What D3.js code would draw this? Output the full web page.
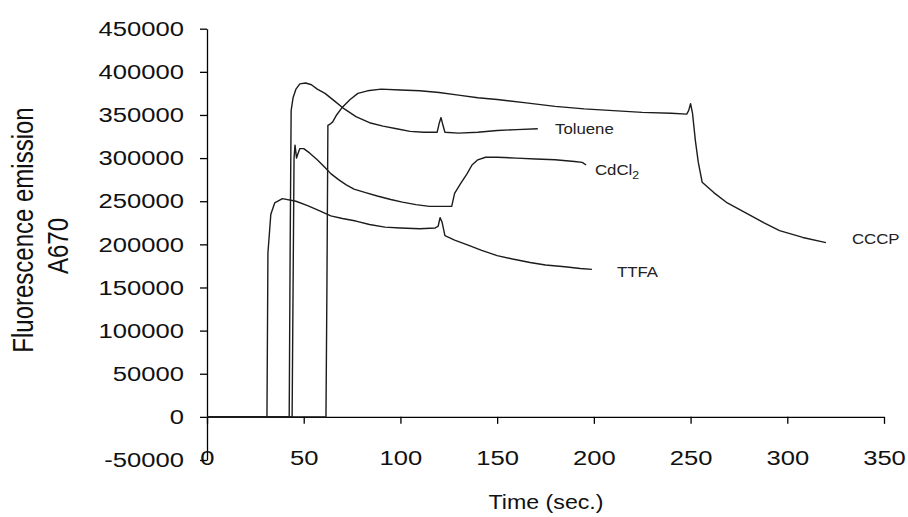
<!DOCTYPE html>
<html>
<head>
<meta charset="utf-8">
<script src="https://cdn.jsdelivr.net/npm/d3@7"></script>
<style>
  body { margin: 0; background: #fff; }
  svg { display: block; font-family: "Liberation Sans", Arial, sans-serif; }
</style>
</head>
<body>
<svg id="chart" width="908" height="517"></svg>
<script>
// time (sec.), fluorescence emission pairs
const ttfa = [
  [0, 0], [31, 0], [31.5, 190000], [33, 235000], [35, 248000], [39, 253000],
  [46, 250000], [52, 245000], [58, 239000], [64, 233000], [70, 230000],
  [77, 227000], [84, 223000], [92, 220000], [100, 219000], [110, 218000],
  [118, 219000], [119.5, 221000], [120.5, 231000], [121.5, 226000],
  [123, 210000], [128, 205000], [135, 199000], [142, 193000], [150, 187000],
  [158, 183000], [167, 179000], [175, 176000], [185, 174000], [193, 172000],
  [199, 171000]
];
const toluene = [
  [0, 0], [42.5, 0], [43, 200000], [43.5, 355000], [44.5, 370000],
  [46, 380000], [48, 386000], [51, 387000], [54, 385000], [57, 380000],
  [61, 375000], [66, 366000], [71, 357000], [77, 348000], [84, 341000],
  [91, 337000], [98, 334000], [105, 331000], [112, 330000], [119, 330000],
  [120, 340000], [121, 347000], [122, 338000], [123, 330000], [130, 329000],
  [140, 330000], [150, 332000], [160, 333000], [171, 334000]
];
const cdcl2 = [
  [0, 0], [44, 0], [44.5, 150000], [45, 300000], [45.5, 315000],
  [46.3, 300000], [47, 305000], [48, 311000], [50, 311000], [53, 306000],
  [57, 298000], [61, 289000], [64, 282000], [68, 275000], [72, 269000],
  [76, 264000], [82, 260000], [88, 256000], [95, 252000], [101, 249000],
  [108, 246000], [115, 244000], [122, 244000], [126.5, 244000],
  [128, 259000], [131, 270000], [134.5, 282000], [137, 292000],
  [140, 298000], [144, 301000], [150, 301000], [160, 300000],
  [170, 299000], [180, 298000], [190, 296000], [194, 295000], [196, 292000]
];
const cccp = [
  [0, 0], [61.5, 0], [62, 150000], [62.5, 338000], [64, 340000],
  [65, 342000], [67, 350000], [70, 359000], [74, 368000], [78, 375000],
  [83, 378000], [90, 380000], [100, 379000], [110, 378000], [120, 376000],
  [130, 373000], [140, 370000], [150, 368000], [165, 364000], [180, 360000],
  [195, 357000], [210, 355000], [225, 353000], [240, 352000], [248, 351000],
  [249, 355000], [250, 363000], [251, 352000], [252.5, 320000],
  [254, 295000], [256, 272000], [262, 260000], [269, 248000], [279, 236000],
  [288, 225000], [296, 216000], [308, 208000], [320, 202000]
];

const xTicks = [0, 50, 100, 150, 200, 250, 300, 350];
const yTicks = [-50000, 0, 50000, 100000, 150000, 200000, 250000, 300000, 350000, 400000, 450000];

const seriesLabels = [
  { name: "Toluene", x: 555, y: 134 },
  { name: "CdCl", sub: "2", x: 595, y: 175 },
  { name: "TTFA", x: 617, y: 277 },
  { name: "CCCP", x: 852, y: 244 }
];

// the picture is a bit wider than tall, stretch the text to match
const stretch = 1.22;

const svg = d3.select("#chart");

const xScale = d3.scaleLinear().domain([0, 350]).range([207, 884]);
const yScale = d3.scaleLinear().domain([-50000, 450000]).range([460, 28.7]);

// Axes
const yAxis = d3.axisLeft(yScale)
  .tickValues(yTicks)
  .tickFormat((d) => `${d}`)
  .tickSizeInner(7)
  .tickSizeOuter(0)
  .tickPadding(16);

const yG = svg.append("g")
  .attr("transform", `translate(${xScale(0)},0)`)
  .call(yAxis);

const xAxis = d3.axisBottom(xScale)
  .tickValues(xTicks)
  .tickFormat((d) => `${d}`)
  .tickSizeInner(7)
  .tickSizeOuter(0)
  .tickPadding(26);

const xG = svg.append("g")
  .attr("transform", `translate(0,${yScale(0)})`)
  .call(xAxis);

[yG, xG].forEach((g) => {
  g.select(".domain").attr("stroke", "#000").attr("stroke-width", 1.3);
  g.selectAll(".tick line").attr("stroke", "#000").attr("stroke-width", 1.3);
  g.selectAll(".tick text")
    .attr("fill", "#111")
    .style("font-size", "21px")
    .style("font-family", "'Liberation Sans', Arial, sans-serif");
});

// keep the anchor point, widen the glyphs
yG.selectAll(".tick text").each(function () {
  const t = d3.select(this);
  t.attr("x", +t.attr("x") / stretch).attr("transform", `scale(${stretch},1)`);
});
xG.selectAll(".tick text").attr("transform", `scale(${stretch},1)`);

// Lines
const line = d3.line()
  .x((d) => xScale(d[0]))
  .y((d) => yScale(d[1]));

[ttfa, toluene, cdcl2, cccp].forEach((s) => {
  svg.append("path")
    .datum(s)
    .attr("fill", "none")
    .attr("stroke", "#1c1c1c")
    .attr("stroke-width", 1.4)
    .attr("stroke-linejoin", "round")
    .attr("d", line);
});

// Series labels
seriesLabels.forEach((l) => {
  const t = svg.append("text")
    .attr("transform", `translate(${l.x},${l.y}) scale(1.12,1)`)
    .attr("fill", "#222")
    .style("font-size", "15px")
    .text(l.name);
  if (l.sub) {
    t.append("tspan")
      .attr("dy", 4)
      .style("font-size", "11px")
      .text(l.sub);
  }
});

// Axis titles
svg.append("text")
  .attr("transform", `translate(546,509) scale(1.16,1)`)
  .attr("text-anchor", "middle")
  .attr("fill", "#111")
  .style("font-size", "20px")
  .text("Time (sec.)");

svg.append("text")
  .attr("transform", `translate(23,230) scale(${stretch},1) rotate(-90)`)
  .attr("text-anchor", "middle")
  .attr("dy", "0.35em")
  .attr("fill", "#111")
  .style("font-size", "24px")
  .text("Fluorescence emission");

svg.append("text")
  .attr("transform", `translate(58,246) scale(${stretch},1) rotate(-90)`)
  .attr("text-anchor", "middle")
  .attr("dy", "0.35em")
  .attr("fill", "#111")
  .style("font-size", "24px")
  .text("A670");
</script>
</body>
</html>
